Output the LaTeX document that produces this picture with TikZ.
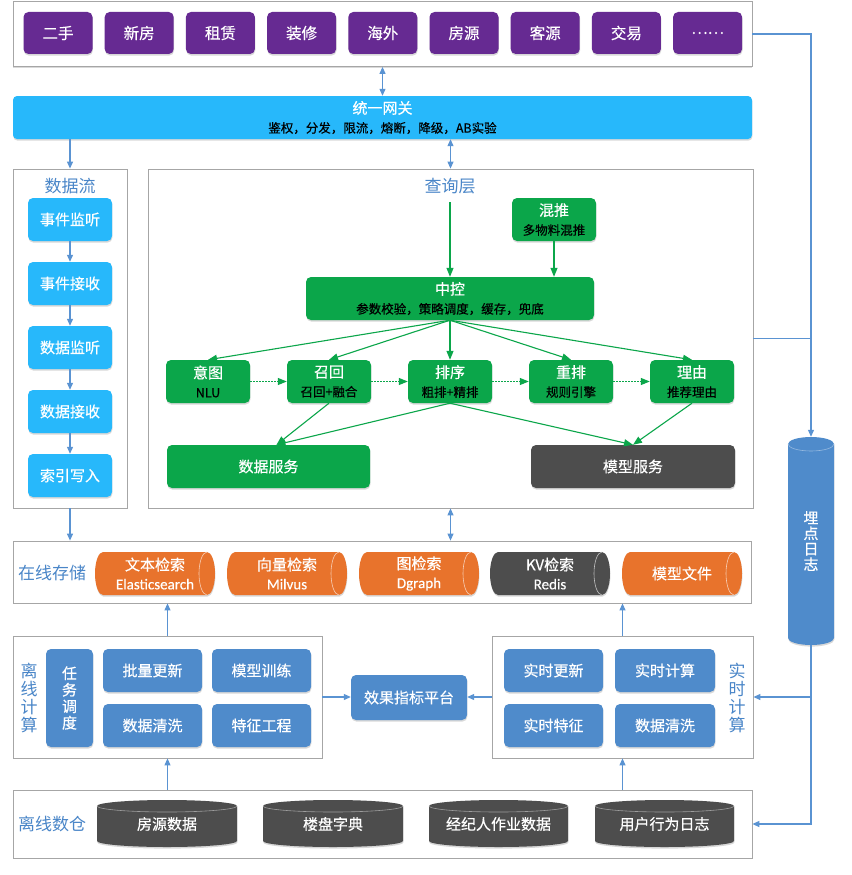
\documentclass[tikz,border=0pt]{standalone}
\usepackage{fontspec}
\setmainfont{Noto Sans CJK SC}
\newfontfamily\tilefont[FakeBold=0.45]{Noto Sans CJK SC}
\newfontfamily\latinfont[FakeBold=0.3]{Carlito}
\usetikzlibrary{arrows.meta,shadows,calc}

\definecolor{purplebtn}{HTML}{662A92}
\definecolor{skyblue}{HTML}{27B8FB}
\definecolor{leaf}{HTML}{0BA64A}
\definecolor{slate}{HTML}{4D4D4D}
\definecolor{tangerine}{HTML}{E8732C}
\definecolor{steel}{HTML}{4F8BCB}
\definecolor{titleblue}{HTML}{4A86C8}
\definecolor{wire}{HTML}{5A93D2}
\definecolor{framegray}{HTML}{A6A6A6}

\newcommand{\fs}[1]{\tilefont\fontsize{#1}{19}\selectfont}
\newcommand{\subtext}[1]{{\fontsize{12.5}{19}\selectfont\color{black}#1}}
\newcommand{\lat}[1]{{\latinfont #1}}

% horizontal storage cylinder: name, left x, right x, fill, text
\newcommand{\hcyl}[5]{%
  \fill[#4, softshadow] (#2+8,-552) -- (#3-8,-552)
    arc[start angle=90,end angle=-90,x radius=8,y radius=21.5]
    -- (#2+8,-595) arc[start angle=270,end angle=90,x radius=8,y radius=21.5] -- cycle;
  \draw[white!65!#4, line width=0.6pt] (#3-8,-552)
    arc[start angle=90,end angle=270,x radius=8,y radius=21.5];
  \node[storetext] (#1) at ({(#2+#3)/2},-573.5) {#5};
}
% upright warehouse cylinder: name, left x, right x, text
\newcommand{\vcyl}[4]{%
  \fill[slate, softshadow] (#2,-806)
    arc[start angle=180,end angle=0,x radius={(#3-#2)/2},y radius=6]
    -- (#3,-841) arc[start angle=0,end angle=-180,x radius={(#3-#2)/2},y radius=6] -- cycle;
  \draw[white!45!slate, line width=0.6pt] (#2,-806)
    arc[start angle=180,end angle=360,x radius={(#3-#2)/2},y radius=6];
  \node[text=white, font=\fs{15}] (#1) at ({(#2+#3)/2},-824) {#4};
}

\begin{document}
\begin{tikzpicture}[x=1pt,y=1pt,
  softshadow/.style={drop shadow={shadow xshift=0.4pt,shadow yshift=-1.6pt,opacity=0.22,fill=black!70}},
  frame/.style={draw=framegray, line width=0.8pt, fill=white, inner sep=0pt,
    drop shadow={shadow xshift=0pt,shadow yshift=-1.2pt,opacity=0.25,fill=black!60}},
  tile/.style={rounded corners=5pt, text=white, inner sep=0pt, font=\fs{15}, align=center, softshadow},
  btn/.style={tile, fill=purplebtn, minimum width=69pt, minimum height=42pt, font=\fs{15.5}},
  flowtile/.style={tile, fill=skyblue, minimum width=84pt, minimum height=43pt},
  gbox/.style={tile, fill=leaf, minimum width=84pt, minimum height=43pt},
  sbox/.style={tile, fill=steel, minimum width=99pt, minimum height=43pt},
  storetext/.style={text=white, font=\fs{15}, align=center},
  caption/.style={text=titleblue, font=\fontsize{17}{19}\selectfont},
  vcaption/.style={text=titleblue, font=\fontsize{17}{18}\selectfont, align=center},
  bline/.style={draw=wire, line width=1.1pt},
  barrow/.style={bline, -{Triangle[length=7pt,width=6pt]}},
  bdouble/.style={bline, {Triangle[length=7pt,width=6pt]}-{Triangle[length=7pt,width=6pt]}},
  garrow/.style={draw=leaf, line width=1.1pt, -{Triangle[length=9pt,width=7pt]}},
  gdot/.style={garrow, dash pattern=on 1.6pt off 1.4pt}
]
\useasboundingbox (0,0) rectangle (851,-875);

% ---------- containers ----------
\node[frame, minimum width=739pt, minimum height=65pt] (topbar) at (382.5,-34) {};
\node[frame, minimum width=114pt, minimum height=339pt] (flowbox) at (70,-338.5) {};
\node[frame, minimum width=605pt, minimum height=339pt] (querybox) at (450.5,-338.5) {};
\node[frame, minimum width=738pt, minimum height=62pt] (storebox) at (382,-572) {};
\node[frame, minimum width=309pt, minimum height=122pt] (offbox) at (167.5,-697) {};
\node[frame, minimum width=261pt, minimum height=122pt] (rtbox) at (622.5,-697) {};
\node[frame, minimum width=739pt, minimum height=68pt] (whbox) at (382.5,-824) {};

% ---------- business lines ----------
\foreach \t [count=\i from 0] in {二手,新房,租赁,装修,海外,房源,客源,交易,……}
  \node[btn] (btn\i) at ({58+81.2*\i},-33) {\t};

% ---------- gateway ----------
\node[tile, fill=skyblue, rounded corners=4pt, minimum width=739pt, minimum height=43pt]
  (gateway) at (382.5,-117.5) {统一网关\\{\fontsize{12.5}{19}\selectfont\color{black}鉴权，分发，限流，熔断，降级，AB实验}};

% ---------- data flow ----------
\node[caption] (flowtitle) at (70,-186) {数据流};
\node[flowtile] (f1) at (70,-219.5) {事件监听};
\node[flowtile] (f2) at (70,-283.5) {事件接收};
\node[flowtile] (f3) at (70,-347.5) {数据监听};
\node[flowtile] (f4) at (70,-411.5) {数据接收};
\node[flowtile] (f5) at (70,-475.5) {索引写入};
\foreach \a/\b in {f1/f2,f2/f3,f3/f4,f4/f5}
  \draw[barrow] (\a.south) -- (\b.north);

% ---------- query layer ----------
\node[caption] (qtitle) at (450,-186) {查询层};
\node[gbox] (hunpai) at (554,-219.5) {混推\\\subtext{多物料混推}};
\node[gbox, minimum width=288pt] (zk) at (450,-298.5) {中控\\\subtext{参数校验，策略调度，缓存，兜底}};
\node[gbox] (yitu) at (208,-381.5) {意图\\\subtext{NLU}};
\node[gbox] (zhaohui) at (329,-381.5) {召回\\\subtext{召回+融合}};
\node[gbox] (paixu) at (450,-381.5) {排序\\\subtext{粗排+精排}};
\node[gbox] (chongpai) at (571,-381.5) {重排\\\subtext{规则引擎}};
\node[gbox] (liyou) at (692,-381.5) {理由\\\subtext{推荐理由}};
\node[gbox, minimum width=203pt] (ds) at (268.5,-466.5) {数据服务};
\node[tile, fill=slate, minimum width=204pt, minimum height=43pt] (ms) at (633,-466.5) {模型服务};

\draw[garrow, shorten <=5pt] (qtitle.south) -- (zk.north);
\draw[garrow] (hunpai.south) -- (hunpai.south |- zk.north);
\foreach \n in {yitu,zhaohui,paixu,chongpai,liyou}
  \draw[garrow] (zk.south) -- (\n.north);
\foreach \a/\b in {yitu/zhaohui,zhaohui/paixu,paixu/chongpai,chongpai/liyou}
  \draw[gdot] (\a.east) -- (\b.west);
\draw[garrow] (zhaohui.south) -- ([xshift=8pt]ds.north);
\draw[garrow] (paixu.south) -- ([xshift=8pt]ds.north);
\draw[garrow] (paixu.south) -- (ms.north);
\draw[garrow] (liyou.south) -- (ms.north);

% ---------- online storage ----------
\node[caption] (storetitle) at (52,-573) {在线存储};
\hcyl{es}{95}{215}{tangerine}{文本检索\\\lat{Elasticsearch}}
\hcyl{milvus}{227}{347}{tangerine}{向量检索\\\lat{Milvus}}
\hcyl{dgraph}{359}{479}{tangerine}{图检索\\\lat{Dgraph}}
\hcyl{redis}{490}{610}{slate}{KV检索\\\lat{Redis}}
\hcyl{mfile}{622}{742}{tangerine}{模型文件}

% ---------- offline computing ----------
\node[vcaption] (offtitle) at (29,-698) {离\\线\\计\\算};
\node[tile, fill=steel, minimum width=47pt, minimum height=98pt, font=\tilefont\fontsize{15}{16.5}\selectfont]
  (sched) at (69.5,-698) {任\\务\\调\\度};
\node[sbox] (pl) at (152.5,-670.5) {批量更新};
\node[sbox] (mt) at (261.5,-670.5) {模型训练};
\node[sbox] (dc) at (152.5,-725.5) {数据清洗};
\node[sbox] (fe) at (261.5,-725.5) {特征工程};

\node[tile, fill=steel, minimum width=116pt, minimum height=45pt] (effect) at (409,-697.5) {效果指标平台};

% ---------- real-time computing ----------
\node[sbox] (rt1) at (553.5,-670.5) {实时更新};
\node[sbox, minimum width=100pt] (rt2) at (665,-670.5) {实时计算};
\node[sbox] (rt3) at (553.5,-725.5) {实时特征};
\node[sbox, minimum width=100pt] (rt4) at (665,-725.5) {数据清洗};
\node[vcaption] (rttitle) at (737,-698) {实\\时\\计\\算};

% ---------- offline warehouse ----------
\node[caption] (whtitle) at (52,-824) {离线数仓};
\vcyl{house}{97}{237}{房源数据}
\vcyl{estate}{263}{403}{楼盘字典}
\vcyl{agent}{429}{568}{经纪人作业数据}
\vcyl{behav}{595}{734}{用户行为日志}

% ---------- tracking log ----------
\fill[steel, softshadow] (788,-444) arc[start angle=180,end angle=0,x radius=23,y radius=7]
  -- (834,-638) arc[start angle=0,end angle=-180,x radius=23,y radius=7] -- cycle;
\draw[white!40!steel, line width=0.6pt] (788,-444) arc[start angle=180,end angle=360,x radius=23,y radius=7];
\node[minimum width=46pt, minimum height=208pt, inner sep=0pt, text=white,
  font=\tilefont\fontsize{15}{15.5}\selectfont, align=center] (maidian) at (811,-541) {埋\\点\\日\\志};

% ---------- blue connectors ----------
\draw[bdouble] (topbar.south) -- (gateway.north);
\draw[barrow] (gateway.south -| flowbox.north) -- (flowbox.north);
\draw[bdouble] (gateway.south -| querybox.north) -- (querybox.north);
\draw[barrow] (flowbox.south) -- (flowbox.south |- storebox.north);
\draw[bdouble] (querybox.south) -- (querybox.south |- storebox.north);
\draw[barrow] (offbox.north) -- (offbox.north |- storebox.south);
\draw[barrow] (rtbox.north) -- (rtbox.north |- storebox.south);
\draw[barrow] (whbox.north -| offbox.south) -- (offbox.south);
\draw[barrow] (whbox.north -| rtbox.south) -- (rtbox.south);
\draw[barrow] (offbox.east) -- (effect.west |- offbox.east);
\draw[barrow] (rtbox.west) -- (effect.east |- rtbox.west);

\draw[barrow] (topbar.east) -| (maidian.north);
\draw[bline] (querybox.east) -- (querybox.east -| maidian.north);
\draw[barrow] (maidian.south) |- (whbox.east);
\draw[barrow] (maidian.south |- rtbox.east) -- (rtbox.east);
\end{tikzpicture}
\end{document}
